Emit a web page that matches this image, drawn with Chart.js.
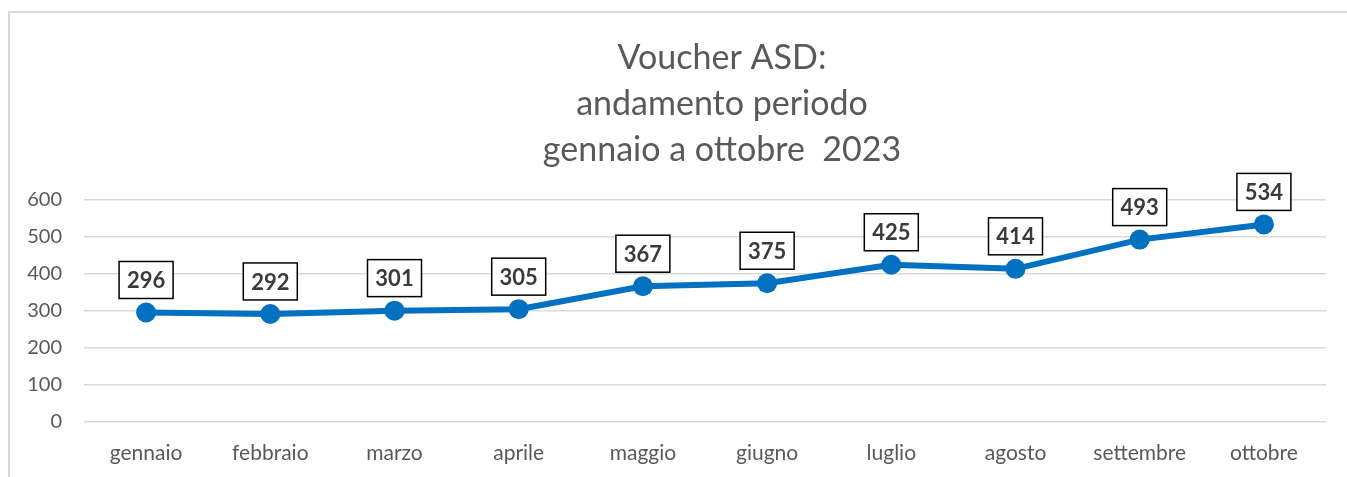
<!DOCTYPE html>
<html>
<head>
<meta charset="utf-8">
<script src="https://cdn.jsdelivr.net/npm/chart.js@4"></script>
<style>
  html, body { margin: 0; padding: 0; background: #fff; overflow: hidden; }
  #frame {
    position: absolute; left: 8px; top: 11px; width: 1400px; height: 500px;
    border-left: 2px solid #d9d9d9; border-top: 2px solid #d9d9d9;
  }
  #chart { position: absolute; left: 0; top: 0; }
</style>
</head>
<body>
<div id="frame"></div>
<canvas id="chart" width="1347" height="477"></canvas>
<script>
// data
const months = ['gennaio', 'febbraio', 'marzo', 'aprile', 'maggio', 'giugno', 'luglio', 'agosto', 'settembre', 'ottobre'];
const vouchers = [296, 292, 301, 305, 367, 375, 425, 414, 493, 534];
const titleLines = ['Voucher ASD:', 'andamento periodo', 'gennaio a ottobre  2023'];

const FONT = 'Lato, "Open Sans", sans-serif';

// title drawn by hand so it sits where the original does
const titlePlugin = {
  id: 'titleLines',
  afterDraw(chart) {
    const ctx = chart.ctx;
    ctx.save();
    ctx.fillStyle = '#595959';
    ctx.font = '34px ' + FONT;
    ctx.textAlign = 'center';
    ctx.textBaseline = 'middle';
    titleLines.forEach((t, i) => ctx.fillText(t, 722, 58 + i * 46));
    ctx.restore();
  }
};

// boxed value labels above each point
const boxLabels = {
  id: 'boxLabels',
  afterDatasetsDraw(chart) {
    const ctx = chart.ctx;
    const meta = chart.getDatasetMeta(0);
    ctx.save();
    ctx.font = 'bold 22px ' + FONT;
    ctx.textAlign = 'center';
    ctx.textBaseline = 'middle';
    meta.data.forEach((pt, i) => {
      const w = 54, h = 37;
      const x = pt.x - w / 2, y = pt.y - 14 - h;
      ctx.fillStyle = '#fff';
      ctx.fillRect(x, y, w, h);
      ctx.lineWidth = 1.5;
      ctx.strokeStyle = '#000';
      ctx.strokeRect(x, y, w, h);
      ctx.fillStyle = '#3a3a3a';
      ctx.fillText(String(vouchers[i]), pt.x, y + h / 2 + 1);
    });
    ctx.restore();
  }
};

new Chart(document.getElementById('chart'), {
  type: 'line',
  data: {
    labels: months,
    datasets: [{
      data: vouchers,
      borderColor: '#0070C0',
      backgroundColor: '#0070C0',
      borderWidth: 6,
      pointRadius: 10,
      pointHoverRadius: 10,
      pointBackgroundColor: '#0070C0',
      pointBorderWidth: 0,
      tension: 0
    }]
  },
  options: {
    responsive: false,
    animation: false,
    layout: { padding: { left: 8, right: 21, top: 200, bottom: 0 } },
    plugins: {
      legend: { display: false },
      tooltip: { enabled: false }
    },
    scales: {
      x: {
        offset: true,
        grid: { display: false },
        border: { display: false },
        ticks: { color: '#595959', font: { family: FONT, size: 21 }, padding: 11, maxRotation: 0, autoSkip: false },
        afterFit: (s) => { s.height = 55; }
      },
      y: {
        min: 0,
        max: 600,
        ticks: { stepSize: 100, color: '#595959', font: { family: FONT, size: 20 }, padding: 22 },
        grid: { color: '#d9d9d9', lineWidth: 1.5, drawTicks: false },
        border: { display: false },
        afterFit: (s) => { s.width = 76; }
      }
    }
  },
  plugins: [titlePlugin, boxLabels]
});
</script>
</body>
</html>
